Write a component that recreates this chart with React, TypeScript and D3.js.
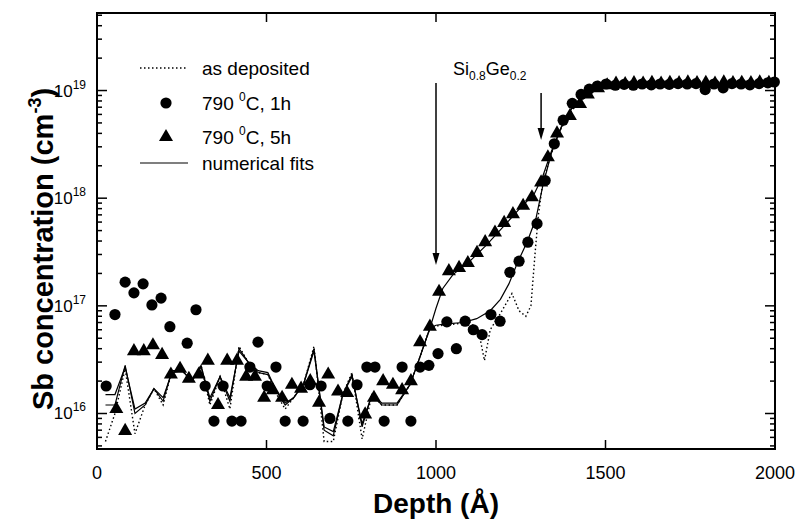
import React, { useEffect, useRef } from 'react';
import * as d3 from 'd3';

// depth (Å), concentration (cm^-3)
const anneal1h: [number, number][] = [
  [27, 1.8e16], [53, 8.3e16], [83, 1.66e17], [109, 1.32e17], [136, 1.6e17], [162, 1.02e17],
  [189, 1.18e17], [215, 6.4e16], [266, 4.5e16], [292, 9.2e16], [319, 1.8e16], [345, 8.5e15],
  [372, 1.8e16], [398, 8.5e15], [425, 8.5e15], [451, 2.7e16], [475, 4.6e16], [502, 1.8e16],
  [528, 2.7e16], [555, 8.5e15], [608, 8.5e15], [628, 1.85e16], [661, 1.8e16], [687, 9e15],
  [740, 8.5e15], [767, 1.85e16], [796, 2.7e16], [820, 2.7e16], [847, 8.5e15], [900, 2.7e16],
  [926, 8.5e15], [953, 2.7e16], [979, 2.8e16], [1006, 3.6e16], [1032, 7.1e16], [1060, 4.0e16],
  [1086, 7.2e16], [1110, 6.0e16], [1136, 5.4e16], [1162, 8.3e16], [1189, 7.2e16], [1218, 2.05e17],
  [1245, 2.6e17], [1271, 3.9e17], [1298, 5.8e17], [1322, 1.46e18], [1349, 3.2e18], [1375, 5.3e18],
  [1402, 7.6e18], [1428, 9.2e18], [1452, 1.03e19], [1476, 1.1e19], [1502, 1.15e19], [1529, 1.12e19],
  [1555, 1.14e19], [1582, 1.12e19], [1608, 1.15e19], [1635, 1.13e19], [1661, 1.15e19], [1688, 1.14e19],
  [1714, 1.16e19], [1741, 1.15e19], [1767, 1.16e19], [1794, 1.02e19], [1820, 1.15e19], [1847, 1.06e19],
  [1873, 1.16e19], [1900, 1.15e19], [1926, 1.13e19], [1953, 1.16e19], [1979, 1.18e19], [1998, 1.2e19],
];

const anneal5h: [number, number][] = [
  [57, 1.1e16], [83, 6.9e15], [109, 3.8e16], [138, 3.8e16], [165, 4.3e16], [192, 3.5e16],
  [218, 2.3e16], [245, 2.6e16], [271, 2.1e16], [300, 2.3e16], [327, 3.1e16], [357, 1.2e16],
  [384, 3.1e16], [413, 3.1e16], [440, 2.2e16], [466, 2.2e16], [493, 1.4e16], [519, 1.65e16],
  [546, 1.4e16], [575, 1.85e16], [602, 1.7e16], [629, 2.0e16], [655, 1.26e16], [682, 2.3e16],
  [711, 1.6e16], [738, 1.55e16], [791, 9.8e15], [817, 1.4e16], [844, 2.0e16], [873, 1.85e16],
  [900, 1.65e16], [926, 2.0e16], [953, 4.6e16], [982, 6.4e16], [1009, 1.35e17], [1038, 2.1e17],
  [1068, 2.25e17], [1094, 2.5e17], [1121, 3.1e17], [1145, 3.9e17], [1174, 4.8e17], [1201, 5.9e17],
  [1227, 7.1e17], [1257, 8.5e17], [1283, 1.02e18], [1310, 1.4e18], [1330, 2.4e18], [1357, 4.0e18],
  [1395, 5.8e18], [1425, 7.5e18], [1448, 9.2e18], [1478, 1.05e19], [1505, 1.12e19], [1531, 1.16e19],
  [1558, 1.15e19], [1584, 1.17e19], [1611, 1.16e19], [1637, 1.18e19], [1664, 1.16e19], [1690, 1.18e19],
  [1717, 1.17e19], [1743, 1.19e19], [1770, 1.17e19], [1796, 1.18e19], [1823, 1.16e19], [1849, 1.19e19],
  [1876, 1.17e19], [1902, 1.18e19], [1929, 1.17e19], [1955, 1.19e19], [1982, 1.18e19],
];

const asDeposited: [number, number][] = [
  [25, 5.5e15], [53, 1.0e16], [83, 2.6e16], [112, 6.5e15], [142, 1.2e16], [168, 1.7e16],
  [195, 1.2e16], [221, 2.5e16], [251, 2.5e16], [280, 2.0e16], [307, 2.8e16], [333, 1.2e16],
  [363, 2.2e16], [392, 1.1e16], [419, 4.2e16], [446, 3.0e16], [475, 2.4e16], [504, 2.3e16],
  [530, 1.5e16], [555, 1.1e16], [580, 1.4e16], [610, 1.9e16], [640, 4.2e16], [670, 5.5e15],
  [697, 5.5e15], [725, 1.5e16], [752, 2.4e16], [782, 5.8e15], [811, 1.5e16], [840, 1.2e16],
  [885, 1.2e16], [923, 1.85e16], [944, 2.8e16], [982, 6.2e16], [1000, 6.5e16], [1060, 6.8e16],
  [1100, 7e16], [1125, 6e16], [1143, 3.1e16], [1160, 6e16], [1190, 8.5e16], [1224, 1.3e17],
  [1245, 9e16], [1265, 8e16], [1280, 1.0e17], [1292, 3e17], [1302, 7e17], [1315, 1.4e18],
  [1340, 2.6e18], [1370, 4.5e18], [1400, 6.5e18], [1430, 8.5e18], [1460, 1.0e19], [1500, 1.1e19],
  [1600, 1.13e19], [1800, 1.14e19], [2000, 1.15e19],
];

const fit1h: [number, number][] = [
  [25, 1.2e16], [53, 1.2e16], [83, 2.8e16], [112, 1.0e16], [142, 1.2e16], [168, 1.7e16],
  [195, 1.3e16], [221, 2.5e16], [251, 2.5e16], [280, 2.0e16], [307, 2.8e16], [333, 1.3e16],
  [363, 2.2e16], [392, 1.3e16], [419, 4.0e16], [446, 3.0e16], [475, 2.4e16], [504, 2.3e16],
  [530, 1.6e16], [555, 1.2e16], [580, 1.4e16], [610, 1.9e16], [640, 4.0e16], [670, 7e15],
  [697, 6.2e15], [725, 1.5e16], [752, 2.3e16], [782, 7.5e15], [811, 1.5e16], [840, 1.2e16],
  [885, 1.2e16], [923, 1.85e16], [944, 2.8e16], [982, 6.2e16], [1000, 6.6e16], [1030, 6.8e16],
  [1080, 7.0e16], [1120, 7.6e16], [1160, 9e16], [1190, 1.15e17], [1215, 1.6e17], [1240, 2.5e17],
  [1270, 4e17], [1295, 6.5e17], [1315, 1.3e18], [1340, 2.6e18], [1370, 4.6e18], [1400, 6.8e18],
  [1430, 8.7e18], [1460, 1.02e19], [1500, 1.1e19], [1600, 1.13e19], [1800, 1.15e19], [2000, 1.16e19],
];

const fit5h: [number, number][] = [
  [25, 1.5e16], [53, 1.5e16], [83, 2.7e16], [112, 1.1e16], [142, 1.25e16], [168, 1.7e16],
  [195, 1.4e16], [221, 2.4e16], [251, 2.5e16], [280, 2.0e16], [307, 2.7e16], [333, 1.4e16],
  [363, 2.2e16], [392, 1.4e16], [419, 3.8e16], [446, 3.0e16], [475, 2.5e16], [504, 2.4e16],
  [530, 1.6e16], [555, 1.25e16], [580, 1.4e16], [610, 1.9e16], [640, 3.8e16], [670, 7.5e15],
  [697, 6.8e15], [725, 1.5e16], [752, 2.2e16], [782, 8e15], [811, 1.5e16], [840, 1.25e16],
  [885, 1.25e16], [923, 1.85e16], [944, 2.8e16], [982, 6.2e16], [1000, 9.5e16], [1020, 1.45e17],
  [1050, 1.95e17], [1100, 2.6e17], [1150, 3.7e17], [1200, 5.5e17], [1250, 8.2e17], [1290, 1.1e18],
  [1315, 1.6e18], [1340, 2.7e18], [1370, 4.6e18], [1400, 6.8e18], [1430, 8.7e18], [1460, 1.02e19],
  [1500, 1.1e19], [1600, 1.13e19], [1800, 1.15e19], [2000, 1.16e19],
];

const depthTicks = [0, 500, 1000, 1500, 2000];
const decadeTicks = [16, 17, 18, 19];
const legendLabels = ['as deposited', '790 ', '790 ', 'numerical fits'];
const arrowDepths = [1000, 1310];

const FONT = '"Liberation Sans", Arial, Helvetica, sans-serif';

const App = () => {
  const svgRef = useRef<SVGSVGElement>(null);

  useEffect(() => {
    const svg = d3.select(svgRef.current);
    svg.selectAll('*').remove();

    const width = 799;
    const height = 527;
    const margin = { top: 13, right: 24, bottom: 78, left: 97 };
    const left = margin.left;
    const right = width - margin.right;
    const top = margin.top;
    const bottom = height - margin.bottom;

    const x = d3.scaleLinear().domain([0, 2000]).range([left, right]);
    const y = d3.scaleLog().domain([4.68e15, 5.25e19]).range([bottom, top]);

    svg.append('rect').attr('width', width).attr('height', height).attr('fill', '#fff');

    // ticks (inward on all four sides)
    const ticks = svg.append('g').attr('stroke', '#000').attr('stroke-width', 1.5);
    depthTicks.forEach(d => {
      ticks.append('line').attr('x1', x(d)).attr('x2', x(d)).attr('y1', bottom).attr('y2', bottom - 9);
      ticks.append('line').attr('x1', x(d)).attr('x2', x(d)).attr('y1', top).attr('y2', top + 9);
    });
    const minor: number[] = [];
    for (let e = 15; e <= 19; e++) {
      for (let k = 2; k <= 9; k++) {
        const v = k * Math.pow(10, e);
        if (v > y.domain()[0] && v < y.domain()[1]) minor.push(v);
      }
    }
    minor.forEach(v => {
      ticks.append('line').attr('x1', left).attr('x2', left + 5).attr('y1', y(v)).attr('y2', y(v));
      ticks.append('line').attr('x1', right).attr('x2', right - 5).attr('y1', y(v)).attr('y2', y(v));
    });
    decadeTicks.forEach(e => {
      const v = Math.pow(10, e);
      ticks.append('line').attr('x1', left).attr('x2', left + 10).attr('y1', y(v)).attr('y2', y(v));
      ticks.append('line').attr('x1', right).attr('x2', right - 10).attr('y1', y(v)).attr('y2', y(v));
    });

    // frame
    svg.append('rect')
      .attr('x', left).attr('y', top)
      .attr('width', right - left).attr('height', bottom - top)
      .attr('fill', 'none').attr('stroke', '#000').attr('stroke-width', 2);

    // tick labels
    svg.append('g')
      .selectAll('text')
      .data(depthTicks)
      .join('text')
      .attr('x', d => x(d))
      .attr('y', bottom + 30)
      .attr('text-anchor', 'middle')
      .style('font-family', FONT)
      .style('font-size', '18px')
      .text(d => d);

    const yl = svg.append('g').style('font-family', FONT);
    decadeTicks.forEach(e => {
      const t = yl.append('text')
        .attr('x', left - 11)
        .attr('y', y(Math.pow(10, e)) + 6)
        .attr('text-anchor', 'end')
        .style('font-size', '17px');
      t.append('tspan').text('10');
      t.append('tspan').attr('dy', -8).style('font-size', '12px').text(e);
    });

    // axis titles
    svg.append('text')
      .attr('x', (left + right) / 2)
      .attr('y', 513)
      .attr('text-anchor', 'middle')
      .style('font-family', FONT)
      .style('font-size', '28px')
      .style('font-weight', 'bold')
      .text('Depth (Å)');

    const yt = svg.append('text')
      .attr('transform', `translate(53,${(top + bottom) / 2 + 18}) rotate(-90)`)
      .attr('text-anchor', 'middle')
      .style('font-family', FONT)
      .style('font-size', '29px')
      .style('font-weight', 'bold');
    yt.append('tspan').text('Sb concentration (cm');
    yt.append('tspan').attr('dy', -12).style('font-size', '18px').text('-3');
    yt.append('tspan').attr('dy', 12).text(')');

    // curves
    const line = d3.line<[number, number]>().x(d => x(d[0])).y(d => y(d[1]));
    svg.append('path').datum(asDeposited).attr('d', line)
      .attr('fill', 'none').attr('stroke', '#000').attr('stroke-width', 1.4)
      .attr('stroke-dasharray', '1.5 2.5');
    [fit1h, fit5h].forEach(f => {
      svg.append('path').datum(f).attr('d', line)
        .attr('fill', 'none').attr('stroke', '#000').attr('stroke-width', 1.2);
    });

    // markers
    svg.append('g').selectAll('circle').data(anneal1h).join('circle')
      .attr('cx', d => x(d[0])).attr('cy', d => y(d[1])).attr('r', 5.6).attr('fill', '#000');
    const tri = d3.symbol().type(d3.symbolTriangle).size(85);
    svg.append('g').selectAll('path').data(anneal5h).join('path')
      .attr('transform', d => `translate(${x(d[0])},${y(d[1])})`)
      .attr('d', tri).attr('fill', '#000');

    // legend
    const lg = svg.append('g').style('font-family', FONT).style('font-size', '19px');
    const rows = [68, 103, 137, 163];
    lg.append('line').attr('x1', 140).attr('x2', 188).attr('y1', rows[0]).attr('y2', rows[0])
      .attr('stroke', '#000').attr('stroke-width', 1.4).attr('stroke-dasharray', '1.5 2.5');
    lg.append('circle').attr('cx', 166).attr('cy', rows[1]).attr('r', 5.6).attr('fill', '#000');
    lg.append('path').attr('transform', `translate(166,${rows[2]})`).attr('d', tri).attr('fill', '#000');
    lg.append('line').attr('x1', 140).attr('x2', 188).attr('y1', rows[3]).attr('y2', rows[3])
      .attr('stroke', '#000').attr('stroke-width', 1.2);
    legendLabels.forEach((lab, i) => {
      const t = lg.append('text').attr('x', 202).attr('y', rows[i] + 7);
      t.append('tspan').text(lab);
      if (i === 1 || i === 2) {
        t.append('tspan').attr('dy', -9).style('font-size', '12px').text('0');
        t.append('tspan').attr('dy', 9).text(i === 1 ? 'C, 1h' : 'C, 5h');
      }
    });

    // Si0.8Ge0.2 annotation with arrows
    const an = svg.append('text').attr('x', 453).attr('y', 75)
      .style('font-family', FONT).style('font-size', '18px');
    an.append('tspan').text('Si');
    an.append('tspan').attr('dy', 5).style('font-size', '12px').text('0.8');
    an.append('tspan').attr('dy', -5).text('Ge');
    an.append('tspan').attr('dy', 5).style('font-size', '12px').text('0.2');

    const arrowSpans = [[83, 265], [93, 140]];
    arrowDepths.forEach((d, i) => {
      const ax = x(d);
      const [y1, y2] = arrowSpans[i];
      svg.append('line').attr('x1', ax).attr('x2', ax).attr('y1', y1).attr('y2', y2 - 8)
        .attr('stroke', '#000').attr('stroke-width', 1.5);
      svg.append('path')
        .attr('d', `M${ax - 3.5},${y2 - 12}L${ax + 3.5},${y2 - 12}L${ax},${y2}Z`)
        .attr('fill', '#000');
    });
  }, []);

  return (
    <svg
      ref={svgRef}
      width="799"
      height="527"
      style={{ position: 'absolute', left: 0, top: 0 }}
    ></svg>
  );
};

export default App;
